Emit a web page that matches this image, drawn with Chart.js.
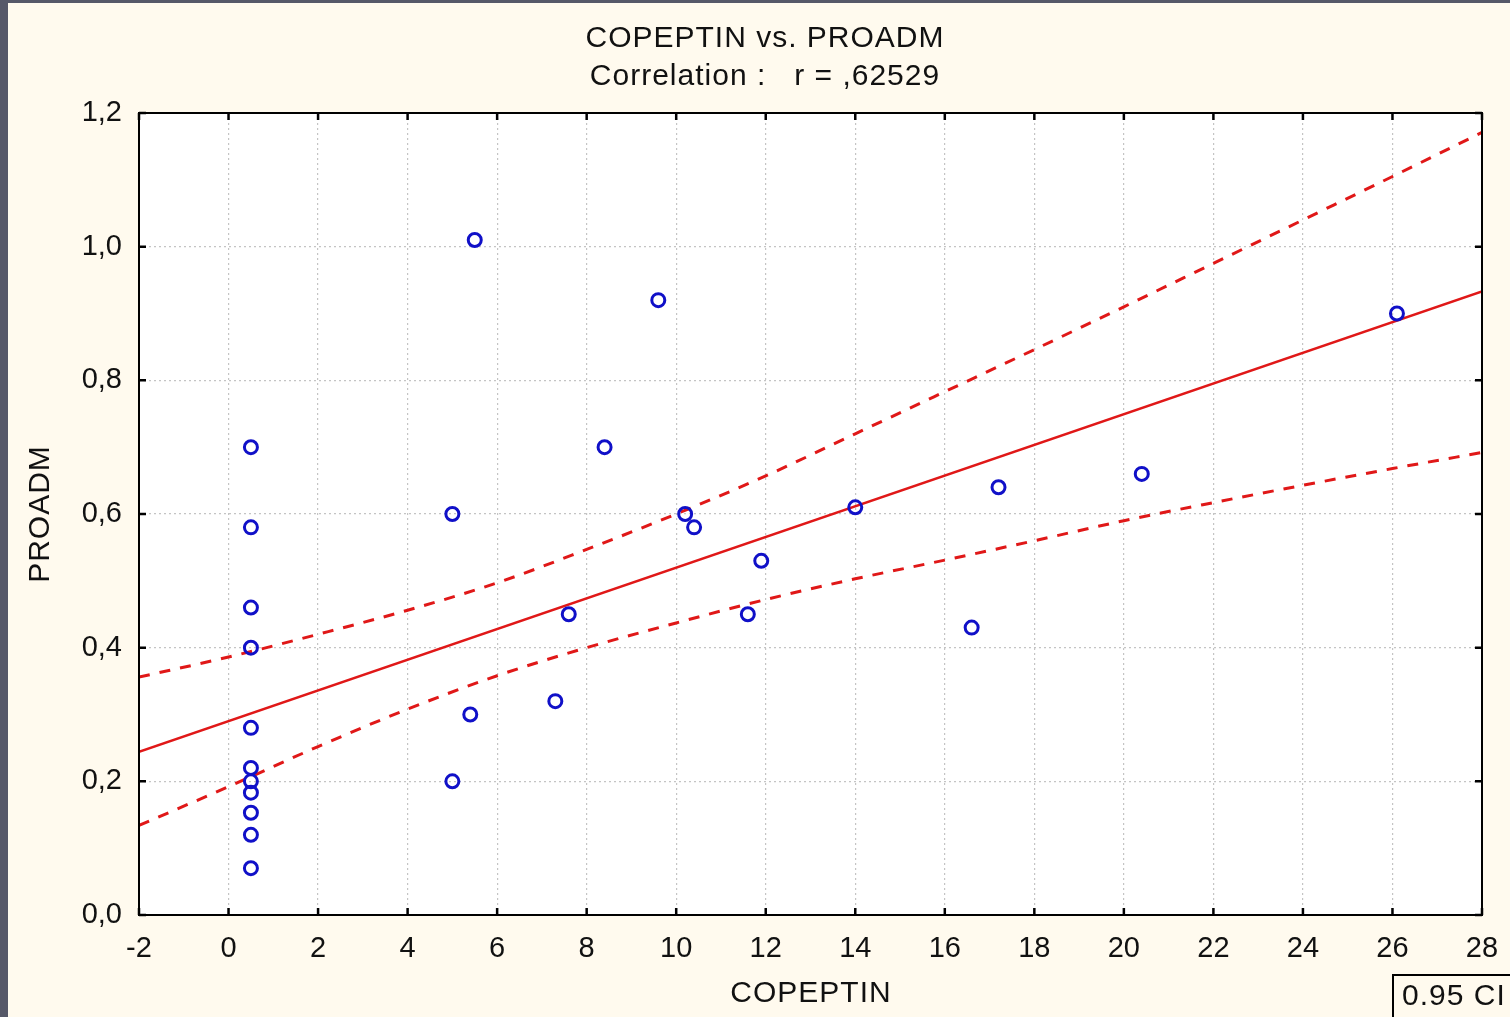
<!DOCTYPE html>
<html>
<head>
<meta charset="utf-8">
<script src="https://cdn.jsdelivr.net/npm/chart.js@4/dist/chart.umd.min.js"></script>
<style>
  html, body { margin:0; padding:0; background:#565868; }
  #wrap { position:absolute; left:0; top:0; width:1510px; height:1017px; }
</style>
</head>
<body>
<div id="wrap"><canvas id="c" width="1510" height="1017"></canvas></div>
<script>
// ── Données ───────────────────────────────────────────────────
const copeptin = [0.5,0.5,0.5,0.5,0.5,0.5,0.5,0.5,0.5,0.5,0.5,
                  5.0,5.0,5.4,5.5,7.3,7.6,8.4,9.6,10.2,10.4,11.6,11.9,14.0,16.6,17.2,20.4,26.1];
const proadm   = [0.70,0.58,0.46,0.40,0.28,0.22,0.20,0.183,0.153,0.12,0.07,
                  0.60,0.20,0.30,1.01,0.32,0.45,0.70,0.92,0.60,0.58,0.45,0.53,0.61,0.43,0.64,0.66,0.90];

// droite de régression (extrémités lues)
const fitX = [-2, 28];
const fitY = [0.244, 0.933];

// intervalle de confiance 0.95
const ciX     = [-2, 0, 2, 4, 6, 8, 10, 12, 14, 16, 18, 20, 22, 24, 26, 28];
const ciUpper = [0.356,0.386,0.420,0.456,0.497,0.547,0.600,0.657,0.720,0.783,0.846,0.910,0.975,1.040,1.105,1.171];
const ciLower = [0.134,0.192,0.252,0.308,0.358,0.400,0.437,0.472,0.503,0.531,0.560,0.590,0.617,0.643,0.668,0.692];

// graduations
const xTickValues = [-2,0,2,4,6,8,10,12,14,16,18,20,22,24,26,28];
const xTickLabels = ['-2','0','2','4','6','8','10','12','14','16','18','20','22','24','26','28'];
const yTickValues = [0,0.2,0.4,0.6,0.8,1.0,1.2];
const yTickLabels = ['0,0','0,2','0,4','0,6','0,8','1,0','1,2'];

const titleLines = ['COPEPTIN vs. PROADM', 'Correlation :   r = ,62529'];
const xTitle = 'COPEPTIN';
const yTitle = 'PROADM';
const ciLabel = '0.95 CI';

const FONT = '"Liberation Sans", Arial, sans-serif';
const RED  = '#e01818';
const BLUE = '#1010c8';

const zip = (xs, ys) => xs.map((x,i) => ({ x, y: ys[i] }));

// ── Fond, cadre, textes ──────────────────────────────────────
const decor = {
  id: 'decor',
  beforeDraw(chart) {
    const { ctx, chartArea: a } = chart;
    ctx.save();
    ctx.fillStyle = '#565868';
    ctx.fillRect(0, 0, chart.width, chart.height);
    ctx.fillStyle = '#fffaee';
    ctx.fillRect(8, 3, chart.width - 8, chart.height - 3);
    ctx.fillStyle = '#ffffff';
    ctx.fillRect(a.left, a.top, a.right - a.left, a.bottom - a.top);
    ctx.restore();
  },
  afterDraw(chart) {
    const { ctx, chartArea: a, scales } = chart;
    ctx.save();
    // cadre
    ctx.strokeStyle = '#000';
    ctx.lineWidth = 2;
    ctx.strokeRect(a.left, a.top, a.right - a.left, a.bottom - a.top);
    // petites graduations intérieures
    ctx.lineWidth = 2.5;
    ctx.beginPath();
    xTickValues.forEach(v => {
      const px = scales.x.getPixelForValue(v);
      ctx.moveTo(px, a.top); ctx.lineTo(px, a.top + 7);
      ctx.moveTo(px, a.bottom); ctx.lineTo(px, a.bottom - 7);
    });
    yTickValues.forEach(v => {
      const py = scales.y.getPixelForValue(v);
      ctx.moveTo(a.left, py); ctx.lineTo(a.left + 7, py);
      ctx.moveTo(a.right, py); ctx.lineTo(a.right - 7, py);
    });
    ctx.stroke();

    // titres
    ctx.fillStyle = '#111';
    ctx.font = '30px ' + FONT;
    ctx.letterSpacing = '1px';
    ctx.textAlign = 'center';
    ctx.textBaseline = 'middle';
    ctx.fillText(titleLines[0], 765, 39);
    ctx.fillText(titleLines[1], 765, 77);
    ctx.fillText(xTitle, 811, 994);
    ctx.save();
    ctx.translate(41, 514);
    ctx.rotate(-Math.PI / 2);
    ctx.fillText(yTitle, 0, 0);
    ctx.restore();

    // boîte 0.95 CI
    ctx.strokeStyle = '#000';
    ctx.lineWidth = 2;
    ctx.strokeRect(1393, 975, 130, 50);
    ctx.textAlign = 'left';
    ctx.fillText(ciLabel, 1402, 997);
    ctx.restore();
  }
};

new Chart(document.getElementById('c').getContext('2d'), {
  type: 'scatter',
  data: {
    datasets: [
      {
        label: 'points',
        data: zip(copeptin, proadm),
        order: 0,
        pointStyle: 'circle', pointRadius: 6.5, pointBorderWidth: 3,
        pointBorderColor: BLUE, pointBackgroundColor: 'rgba(0,0,0,0)',
        showLine: false,
      },
      {
        label: 'fit',
        data: zip(fitX, fitY),
        order: 1, showLine: true, pointRadius: 0,
        borderColor: RED, borderWidth: 2.5,
      },
      {
        label: 'ci upper',
        data: zip(ciX, ciUpper),
        order: 2, showLine: true, pointRadius: 0, cubicInterpolationMode: 'monotone',
        borderColor: RED, borderWidth: 3, borderDash: [11, 10],
      },
      {
        label: 'ci lower',
        data: zip(ciX, ciLower),
        order: 2, showLine: true, pointRadius: 0, cubicInterpolationMode: 'monotone',
        borderColor: RED, borderWidth: 3, borderDash: [11, 10],
      },
    ]
  },
  options: {
    responsive: false, animation: false,
    layout: { padding: { top: 113, right: 28, bottom: 10, left: 10 } },
    plugins: { legend: { display: false }, tooltip: { enabled: false } },
    scales: {
      x: {
        type: 'linear', min: -2, max: 28,
        afterBuildTicks: s => { s.ticks = xTickValues.map(v => ({ value: v })); },
        afterFit: s => { s.height = 92; s.paddingLeft = 0; s.paddingRight = 0; },
        grid: { color: '#c4c4c4', lineWidth: 1.2, drawTicks: false },
        border: { display: false, dash: [2, 3] },
        ticks: { color: '#111', font: { family: FONT, size: 29 }, padding: 17,
                  maxRotation: 0, autoSkip: false,
                  callback: (v, i) => xTickLabels[i] },
      },
      y: {
        type: 'linear', min: 0, max: 1.2,
        afterBuildTicks: s => { s.ticks = yTickValues.map(v => ({ value: v })); },
        afterFit: s => { s.width = 129; s.paddingTop = 0; s.paddingBottom = 0; },
        grid: { color: '#c4c4c4', lineWidth: 1.2, drawTicks: false },
        border: { display: false, dash: [2, 3] },
        ticks: { color: '#111', font: { family: FONT, size: 29 }, padding: 17,
                  autoSkip: false,
                  callback: (v, i) => yTickLabels[i] },
      }
    }
  },
  plugins: [decor]
});
</script>
</body>
</html>
